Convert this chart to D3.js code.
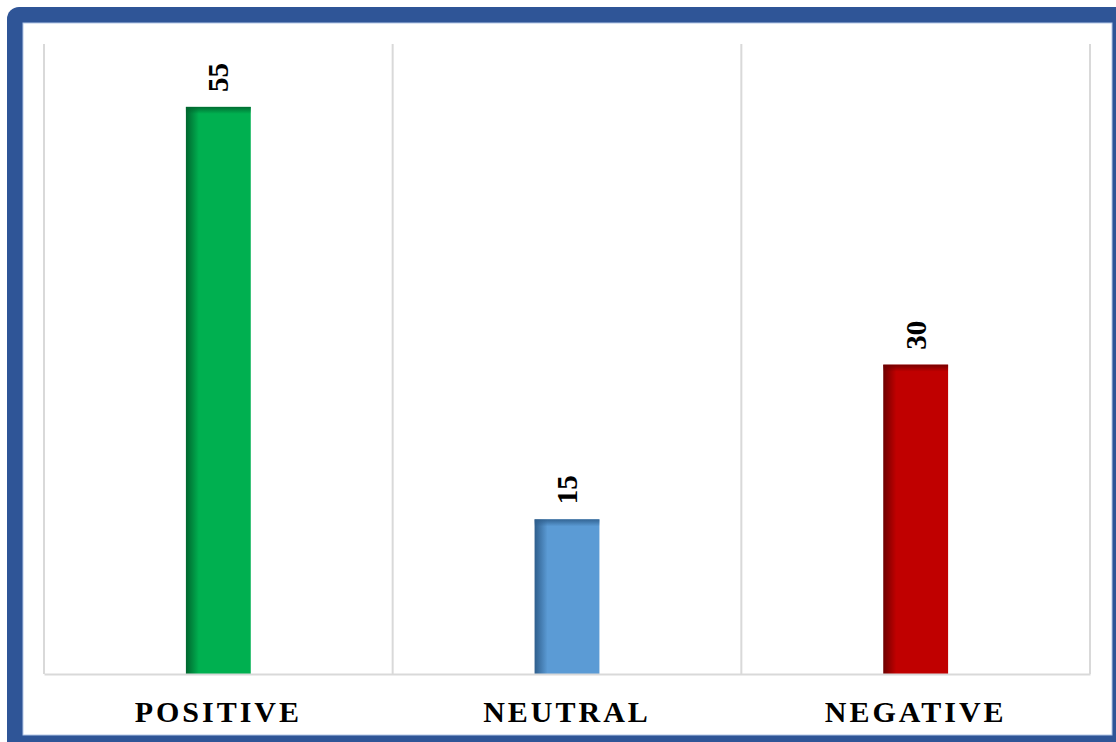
<!DOCTYPE html>
<html>
<head>
<meta charset="utf-8">
<script src="https://cdn.jsdelivr.net/npm/d3@7"></script>
<style>
  html, body { margin: 0; padding: 0; background: #fff; }
  svg { display: block; }
</style>
</head>
<body>
<div id="chart"></div>
<script>
const categories = ["POSITIVE", "NEUTRAL", "NEGATIVE"];
const values = [55, 15, 30];
const barColors = ["#00B050", "#5B9BD5", "#C00000"];
const shadeColors = ["#00652E", "#2E5E8C", "#6E0000"];

const width = 1116;
const height = 742;
const plot = { left: 44, top: 44, right: 1090, bottom: 674 };

const svg = d3.select("#chart")
  .append("svg")
  .attr("width", width)
  .attr("height", height);

// frame
svg.append("rect")
  .attr("x", 7).attr("y", 7)
  .attr("width", 1140).attr("height", 770)
  .attr("rx", 12)
  .attr("fill", "#2F5597");

svg.append("rect")
  .attr("x", 23).attr("y", 23)
  .attr("width", 1089).attr("height", 712)
  .attr("fill", "#fff")
  .attr("stroke", "#B4C7E7")
  .attr("stroke-width", 1);

// gradients for bar shading
const defs = svg.append("defs");
categories.forEach((c, i) => {
  const lg = defs.append("linearGradient")
    .attr("id", "grad" + i)
    .attr("x1", 0).attr("x2", 1).attr("y1", 0).attr("y2", 0);
  lg.append("stop").attr("offset", "0%").attr("stop-color", shadeColors[i]);
  lg.append("stop").attr("offset", "20%").attr("stop-color", barColors[i]);
  lg.append("stop").attr("offset", "100%").attr("stop-color", barColors[i]);

  const tg = defs.append("linearGradient")
    .attr("id", "top" + i)
    .attr("x1", 0).attr("x2", 0).attr("y1", 0).attr("y2", 1);
  tg.append("stop").attr("offset", "0%").attr("stop-color", shadeColors[i]).attr("stop-opacity", 0.9);
  tg.append("stop").attr("offset", "100%").attr("stop-color", shadeColors[i]).attr("stop-opacity", 0);
});

const x = d3.scaleBand()
  .domain(categories)
  .range([plot.left, plot.right])
  .paddingInner(0)
  .paddingOuter(0);

const y = d3.scaleLinear()
  .domain([0, 61.1])
  .range([plot.bottom, plot.top]);

const barW = x.bandwidth() * 0.186;

// vertical grid lines at category boundaries
const bounds = categories.map(c => x(c)).concat([plot.right]);
svg.append("g")
  .selectAll("line")
  .data(bounds)
  .join("line")
  .attr("x1", d => d).attr("x2", d => d)
  .attr("y1", plot.top).attr("y2", plot.bottom)
  .attr("stroke", "#D9D9D9")
  .attr("stroke-width", 2);

// bars
const bars = svg.append("g");
bars.selectAll("rect.bar")
  .data(values)
  .join("rect")
  .attr("class", "bar")
  .attr("x", (d, i) => x(categories[i]) + x.bandwidth() / 2 - barW / 2)
  .attr("y", d => y(d))
  .attr("width", barW)
  .attr("height", d => y(0) - y(d))
  .attr("fill", (d, i) => `url(#grad${i})`);

bars.selectAll("rect.topshade")
  .data(values)
  .join("rect")
  .attr("class", "topshade")
  .attr("x", (d, i) => x(categories[i]) + x.bandwidth() / 2 - barW / 2)
  .attr("y", d => y(d))
  .attr("width", barW)
  .attr("height", 7)
  .attr("fill", (d, i) => `url(#top${i})`);

// x axis
const xAxis = svg.append("g")
  .attr("transform", `translate(0,${plot.bottom})`)
  .call(d3.axisBottom(x).tickSize(0).tickPadding(27));

xAxis.select(".domain")
  .attr("stroke", "#D9D9D9")
  .attr("stroke-width", 2);

xAxis.selectAll("text")
  .attr("fill", "#000")
  .attr("font-family", "'Liberation Serif', 'Times New Roman', serif")
  .attr("font-size", 30)
  .attr("font-weight", "bold")
  .attr("letter-spacing", "3px");

// value labels
svg.append("g")
  .selectAll("text")
  .data(values)
  .join("text")
  .attr("transform", (d, i) => {
    const cx = x(categories[i]) + x.bandwidth() / 2;
    return `translate(${cx + 10},${y(d) - 15}) rotate(-90)`;
  })
  .attr("text-anchor", "start")
  .attr("font-family", "'Liberation Serif', 'Times New Roman', serif")
  .attr("font-size", 29)
  .attr("font-weight", "bold")
  .attr("fill", "#000")
  .text(d => d);
</script>
</body>
</html>
